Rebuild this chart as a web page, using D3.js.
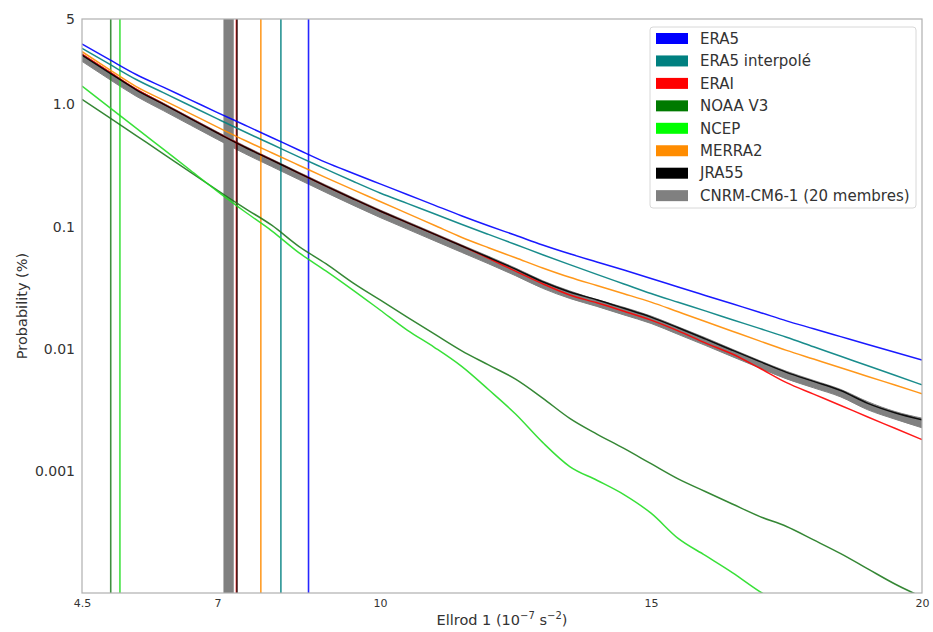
<!DOCTYPE html>
<html>
<head>
<meta charset="utf-8">
<script src="https://cdn.jsdelivr.net/npm/d3@7"></script>
<style>
  html, body { margin: 0; padding: 0; background: #fff; }
  svg { display: block; font-family: "DejaVu Sans", sans-serif; }
</style>
</head>
<body>
<svg id="chart" width="933" height="632"></svg>
<script>
// ---------- data ----------
const xValues = [4.5,5,5.5,6,6.5,7,7.5,8,8.5,9,9.5,10,10.5,11,11.5,12,12.5,13,13.5,14,14.5,15,15.5,16,16.5,17,17.5,18,18.5,19,19.5,20];

const era5 = [3.12,2.335,1.757,1.383,1.089,0.857,0.678,0.536,0.423,0.335,0.273,0.2234,0.183,0.1498,0.1227,0.1016,0.0848,0.0706,0.0598,0.0513,0.044,0.0376,0.032,0.0273,0.0233,0.0199,0.0169,0.01458,0.01256,0.01082,0.00934,0.00808];
const era5Interp = [2.879,2.142,1.599,1.247,0.974,0.761,0.5965,0.4714,0.3717,0.2954,0.2347,0.1882,0.1547,0.1274,0.1045,0.0862,0.0713,0.0588,0.0488,0.0406,0.0339,0.0283,0.024,0.0204,0.01728,0.01466,0.0124,0.01036,0.00867,0.00724,0.00606,0.00506];
const erai = [2.58,1.85,1.33,1.01,0.768,0.585,0.449,0.351,0.274,0.2144,0.169,0.134,0.1077,0.0866,0.0696,0.055,0.0431,0.034,0.0275,0.02375,0.02024,0.01714,0.014,0.01115,0.00905,0.00695,0.00527,0.00425,0.00343,0.00276,0.00223,0.0018];
const noaaV3 = [1.101,0.782,0.555,0.394,0.279,0.198,0.1416,0.1026,0.0689,0.0497,0.0346,0.02505,0.01817,0.01322,0.00965,0.00737,0.00563,0.00394,0.00269,0.002,0.001527,0.001144,0.000859,0.000677,0.000535,0.000424,0.00035,0.000272,0.00021,0.0001576,0.0001185,0.0000927];
const ncep = [1.414,0.951,0.64,0.43,0.289,0.194,0.1328,0.0923,0.0612,0.0434,0.0302,0.02074,0.0142,0.01027,0.00719,0.00463,0.00292,0.00171,0.001085,0.000838,0.000639,0.00045,0.00028,0.000203,0.000147,0.0001032,0.000076];
const merra2 = [2.701,1.938,1.399,1.084,0.841,0.652,0.5083,0.4016,0.3178,0.2516,0.2003,0.1604,0.1281,0.1024,0.0818,0.0671,0.0555,0.0458,0.0384,0.0329,0.0282,0.02407,0.02005,0.0167,0.0139,0.01158,0.00969,0.00823,0.00699,0.00593,0.00504,0.00428];
const jra55 = [2.537,1.821,1.317,1.004,0.765,0.583,0.448,0.3506,0.274,0.2144,0.169,0.134,0.1077,0.0866,0.0696,0.056,0.0448,0.0353,0.0291,0.02514,0.0214,0.01814,0.01483,0.01203,0.00972,0.00787,0.0064,0.0054,0.00455,0.00357,0.00299,0.00262];
// CNRM-CM6-1 ensemble envelope (20 members)
const cnrmHigh = [2.59,1.86,1.34,1.025,0.78,0.595,0.457,0.357,0.279,0.2187,0.1724,0.1367,0.1099,0.0883,0.071,0.0571,0.0457,0.036,0.0297,0.0252,0.0218,0.0185,0.0151,0.0123,0.0099,0.008,0.00653,0.0055,0.00464,0.00368,0.00306,0.0027];
const cnrmLow  = [2.25,1.61,1.165,0.889,0.677,0.516,0.396,0.31,0.2425,0.19,0.1496,0.1186,0.0953,0.0766,0.0616,0.0496,0.0396,0.0312,0.0258,0.0222,0.0189,0.0161,0.0131,0.01065,0.0086,0.00697,0.00566,0.00478,0.00403,0.00316,0.00265,0.00225];

// vertical threshold values (Ellrod 1)
const thresholds = {ERA5: 8.68, ERA5i: 8.17, ERAI: 7.35, NOAA: 5.03, NCEP: 5.20, MERRA2: 7.80, JRA55: 7.36};
const cnrmThresholdRange = [7.11, 7.30];

const legendLabels = ["ERA5","ERA5 interpolé","ERAI","NOAA V3","NCEP","MERRA2","JRA55","CNRM-CM6-1 (20 membres)"];
const legendColors = ["#0000ff","#008080","#ff0000","#007a00","#00ff00","#ff8c00","#000000","#808080"];

const xTicks = [4.5,7,10,15,20];
const xTickLabels = ["4.5","7","10","15","20"];
const yTicks = [5,1,0.1,0.01,0.001];
const yTickLabels = ["5","1.0","0.1","0.01","0.001"];

// ---------- layout ----------
const svg = d3.select("#chart");
const L = 82, R = 922, T = 19, B = 593;

const x = d3.scaleLinear().domain([4.5, 20]).range([L, R]);
const y = d3.scaleLog().domain([1e-4, 5]).range([B, T]);

svg.append("defs").append("clipPath").attr("id","clip")
  .append("rect").attr("x", L).attr("y", T).attr("width", R - L).attr("height", B - T);

const plot = svg.append("g").attr("clip-path","url(#clip)");

// CNRM envelope
const area = d3.area()
  .curve(d3.curveMonotoneX)
  .x((d,i) => x(xValues[i]))
  .y0((d,i) => y(cnrmLow[i]))
  .y1((d,i) => y(cnrmHigh[i]));
plot.append("path").datum(cnrmLow).attr("d", area).attr("fill", "#808080").attr("stroke","#808080").attr("stroke-width",1);

plot.append("rect")
  .attr("x", x(cnrmThresholdRange[0])).attr("width", x(cnrmThresholdRange[1]) - x(cnrmThresholdRange[0]))
  .attr("y", T).attr("height", B - T).attr("fill", "#808080");

const line = d3.line().curve(d3.curveMonotoneX).x((d,i) => x(xValues[i])).y(d => y(d));

const series = [
  {vals: era5, color: legendColors[0], thr: thresholds.ERA5},
  {vals: era5Interp, color: legendColors[1], thr: thresholds.ERA5i},
  {vals: erai, color: legendColors[2], thr: thresholds.ERAI},
  {vals: noaaV3, color: "#1f7a1f", thr: thresholds.NOAA},
  {vals: ncep, color: "#22dd22", thr: thresholds.NCEP},
  {vals: merra2, color: legendColors[5], thr: thresholds.MERRA2},
  {vals: jra55, color: "#000000", thr: thresholds.JRA55, op: 0.75}
];

series.forEach(s => {
  plot.append("line")
    .attr("x1", x(s.thr)).attr("x2", x(s.thr))
    .attr("y1", T).attr("y2", B)
    .attr("stroke", s.color).attr("stroke-width", 1.6)
    .attr("stroke-opacity", s.op || 0.85);
});
series.forEach(s => {
  plot.append("path").datum(s.vals).attr("d", line)
    .attr("fill","none").attr("stroke", s.color).attr("stroke-width", 1.5)
    .attr("stroke-linejoin","round").attr("stroke-opacity", 0.9);
});

// frame
svg.append("rect").attr("x", L).attr("y", T).attr("width", R - L).attr("height", B - T)
  .attr("fill","none").attr("stroke","#b0b0b0").attr("stroke-width",1.2);

// axes
const xAxis = svg.append("g").attr("transform", `translate(0,${B})`)
  .call(d3.axisBottom(x).tickValues(xTicks).tickFormat((d,i) => xTickLabels[i]).tickSize(0).tickPadding(6));
xAxis.select(".domain").remove();
xAxis.selectAll("text").attr("font-size", 11).attr("fill", "#333").attr("font-family","DejaVu Sans");

const yAxis = svg.append("g").attr("transform", `translate(${L},0)`)
  .call(d3.axisLeft(y).tickValues(yTicks).tickFormat((d,i) => yTickLabels[i]).tickSize(0).tickPadding(7));
yAxis.select(".domain").remove();
yAxis.selectAll("text").attr("font-size", 14).attr("fill", "#333").attr("font-family","DejaVu Sans");

// axis labels
svg.append("text").attr("transform", `translate(23,${(T+B)/2}) rotate(-90)`)
  .attr("text-anchor","middle").attr("dominant-baseline","middle")
  .attr("font-size", 14.5).attr("fill","#333").text("Probability (%)");

const xl = svg.append("text").attr("x", (L+R)/2).attr("y", 625)
  .attr("text-anchor","middle").attr("font-size", 14.5).attr("fill","#333");
xl.append("tspan").text("Ellrod 1 (10");
xl.append("tspan").attr("dy", -6).attr("font-size", 10).text("−7");
xl.append("tspan").attr("dy", 6).text(" s");
xl.append("tspan").attr("dy", -6).attr("font-size", 10).text("−2");
xl.append("tspan").attr("dy", 6).text(")");

// legend
const lg = svg.append("g");
lg.append("rect").attr("x", 650).attr("y", 27).attr("width", 266).attr("height", 181)
  .attr("rx", 3).attr("fill", "#fff").attr("fill-opacity", 0.85).attr("stroke", "#d8d8d8");
legendLabels.forEach((lab, i) => {
  const cy = 38.5 + i * 22.45;
  lg.append("rect").attr("x", 656).attr("y", cy - 5.5).attr("width", 32).attr("height", 11).attr("fill", legendColors[i]);
  lg.append("text").attr("x", 700).attr("y", cy + 5.2).attr("font-size", 15).attr("fill", "#333").text(lab);
});
</script>
</body>
</html>
